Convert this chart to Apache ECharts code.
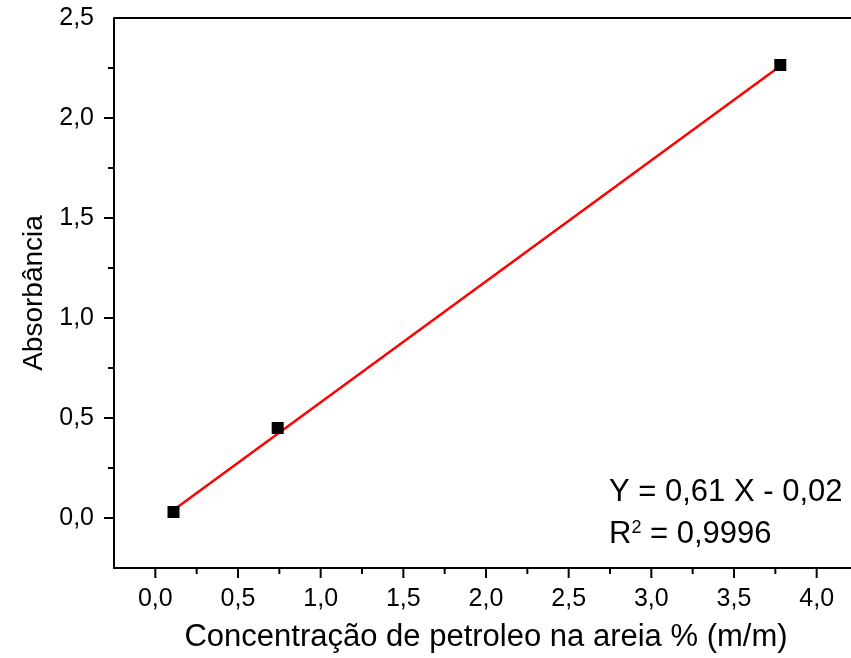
<!DOCTYPE html>
<html><head><meta charset="utf-8">
<script src="https://cdn.jsdelivr.net/npm/echarts@6/dist/echarts.min.js"></script>
<style>html,body{margin:0;padding:0;background:#fff}#c{width:851px;height:658px}</style>
</head><body><div id="c"></div>
<script>
const concX = [0.11, 0.74, 3.78];
const absY = [0.03, 0.45, 2.265];
const fitX = [0.11, 3.78];
const fitY = [0.04, 2.26];
const eqLine1 = 'Y = 0,61 X - 0,02';
const eqR2 = '0,9996';
const xName = 'Concentração de petroleo na areia % (m/m)';
const yName = 'Absorbância';
const xTickVals = [0, 0.25, 0.5, 0.75, 1, 1.25, 1.5, 1.75, 2, 2.25, 2.5, 2.75, 3, 3.25, 3.5, 3.75, 4, 4.25];
const yTickVals = [0, 0.25, 0.5, 0.75, 1, 1.25, 1.5, 1.75, 2, 2.25];

const fmt = v => v.toFixed(1).replace('.', ',');
const isMajor = v => Math.abs(v * 2 - Math.round(v * 2)) < 1e-6;
const FONT = '"Liberation Sans", Arial, sans-serif';

const chart = echarts.init(document.getElementById('c'), null, {renderer: 'canvas'});
chart.setOption({
  animation: false,
  backgroundColor: '#fff',
  grid: {left: 114, top: 18, width: 744, height: 550, containLabel: false, outerBoundsMode: 'none'},
  xAxis: {
    type: 'value', min: -0.25, max: 4.25, interval: 0.25,
    name: xName, nameLocation: 'middle', nameGap: 54,
    nameTextStyle: {fontFamily: FONT, fontSize: 31, color: '#000'},
    axisLine: {show: true, onZero: false, lineStyle: {color: '#000', width: 2}},
    axisTick: {show: false},
    axisLabel: {fontFamily: FONT, fontSize: 25, color: '#000', margin: 19, showMinLabel: true, showMaxLabel: true,
      hideOverlap: false, interval: 0,
      formatter: v => (v < 0 || v > 4.01 || !isMajor(v)) ? '' : fmt(v)},
    splitLine: {show: false}
  },
  yAxis: {
    type: 'value', min: -0.25, max: 2.5, interval: 0.25,
    name: yName, nameLocation: 'middle', nameGap: 66, nameRotate: 90,
    nameTextStyle: {fontFamily: FONT, fontSize: 28, color: '#000'},
    axisLine: {show: true, onZero: false, lineStyle: {color: '#000', width: 2}},
    axisTick: {show: false},
    axisLabel: {fontFamily: FONT, fontSize: 25, color: '#000', margin: 20, interval: 0,
      formatter: v => (isMajor(v) && v >= 0) ? fmt(v) : ''},
    splitLine: {show: false}
  },
  series: [
    {
      type: 'line', data: fitX.map((x, i) => [x, fitY[i]]),
      showSymbol: false, symbol: 'none', lineStyle: {color: '#ff0000', width: 2.5}, z: 2
    },
    {
      type: 'scatter', data: concX.map((x, i) => [x, absY[i]]),
      symbol: 'rect', symbolSize: 12, itemStyle: {color: '#000', opacity: 1}, z: 3
    },
    {
      type: 'line', data: [[-0.25, 2.5], [4.25, 2.5]], symbol: 'none',
      lineStyle: {color: '#000', width: 2}, silent: true, z: 1
    },
    {
      type: 'scatter', silent: true, z: 4, clip: false,
      data: yTickVals.map(v => [-0.25, v]),
      symbol: 'rect',
      symbolSize: val => isMajor(val[1]) ? [10, 2] : [6, 2],
      symbolOffset: val => isMajor(val[1]) ? [-5, 0] : [-3, 0],
      itemStyle: {color: '#000', opacity: 1}
    },
    {
      type: 'scatter', silent: true, z: 4, clip: false,
      data: xTickVals.map(v => [v, -0.25]),
      symbol: 'rect',
      symbolSize: val => isMajor(val[0]) ? [2, 10] : [2, 6],
      symbolOffset: val => isMajor(val[0]) ? [0, 5] : [0, 3],
      itemStyle: {color: '#000', opacity: 1}
    }
  ],
  graphic: [
    {type: 'text', left: 609, top: 477, style: {text: eqLine1, font: '31px ' + FONT, fill: '#000'}},
    {type: 'text', left: 609, top: 519, style: {
      text: '{a|R}{s|2}{a| = ' + eqR2 + '}',
      rich: {
        a: {fontFamily: FONT, fontSize: 31, color: '#000'},
        s: {fontFamily: FONT, fontSize: 18, color: '#000', verticalAlign: 'top', padding: [0, 0, 12, 0]}
      }
    }}
  ]
});
</script>
</body></html>
